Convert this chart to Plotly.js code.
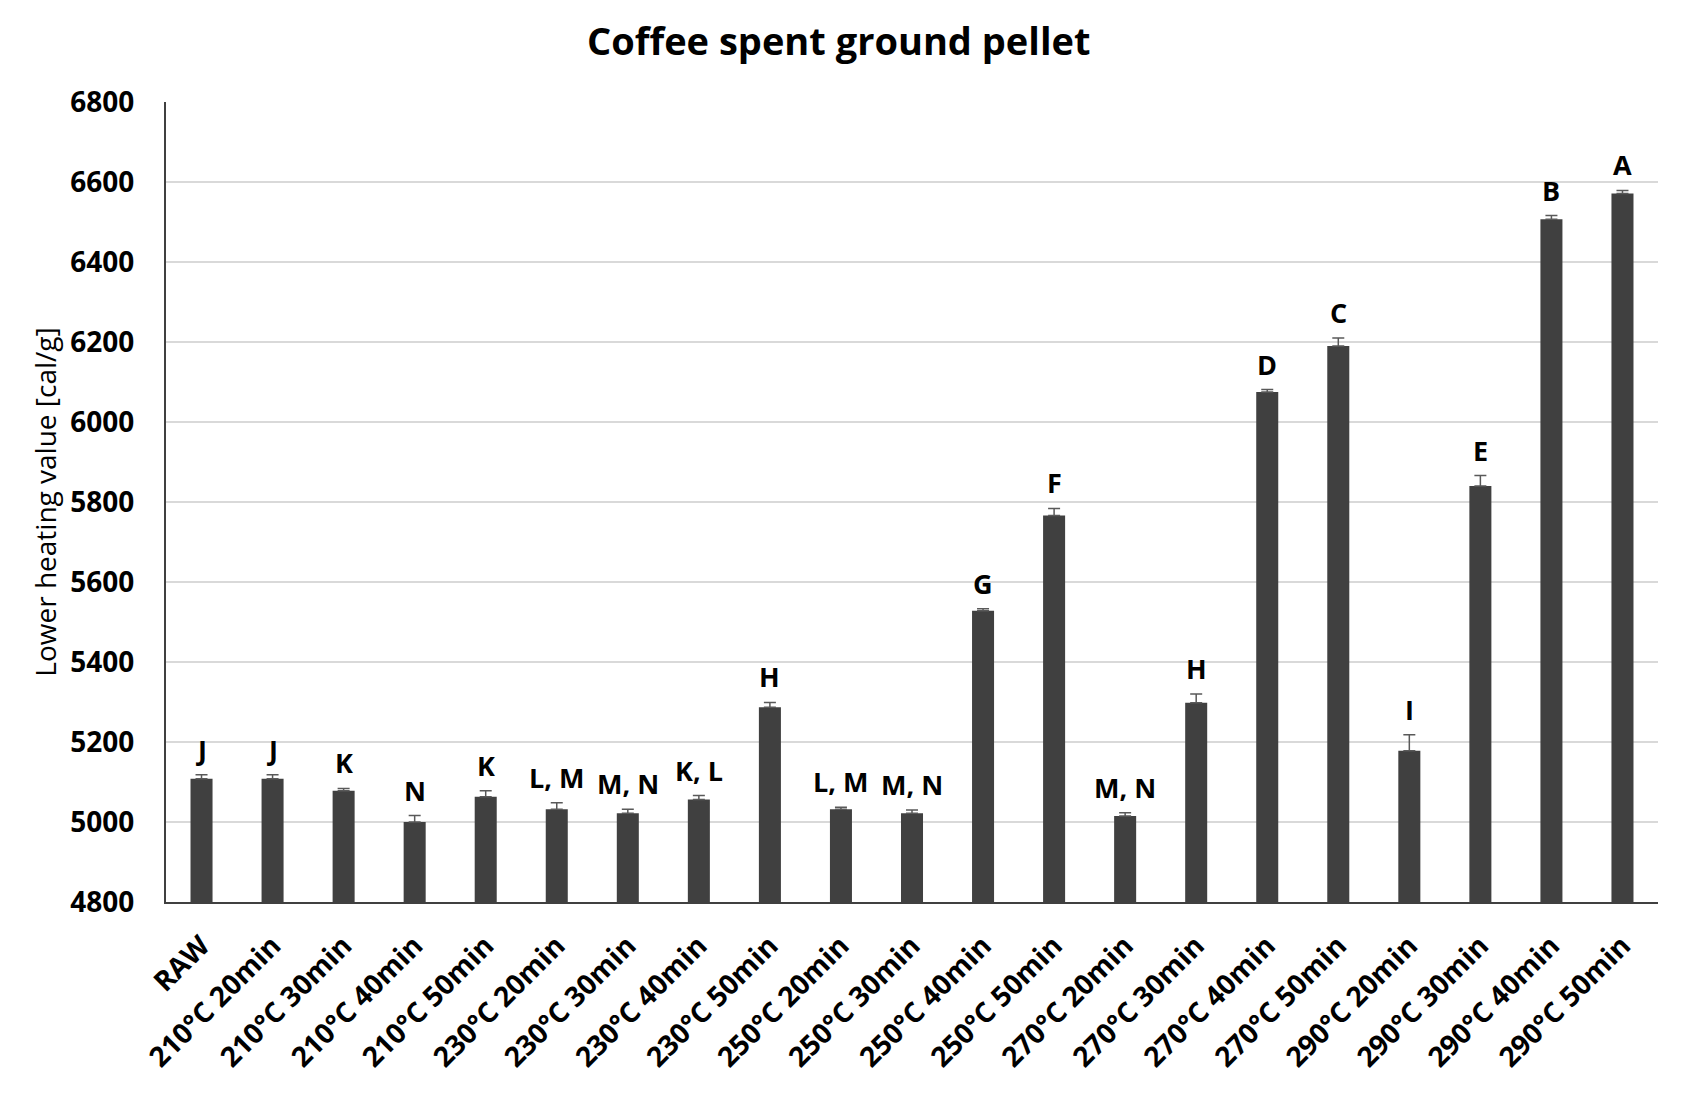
<!DOCTYPE html>
<html>
<head>
<meta charset="utf-8">
<script src="https://cdn.plot.ly/plotly-3.0.1.min.js"></script>
<style>
  html, body { margin: 0; padding: 0; background: #fff; }
  #myDiv { width: 1691px; height: 1094px; }
</style>
</head>
<body>
<div id="myDiv"></div>
<script>
var categories = [
  "RAW", "210°C 20min", "210°C 30min", "210°C 40min", "210°C 50min",
  "230°C 20min", "230°C 30min", "230°C 40min", "230°C 50min",
  "250°C 20min", "250°C 30min", "250°C 40min", "250°C 50min",
  "270°C 20min", "270°C 30min", "270°C 40min", "270°C 50min",
  "290°C 20min", "290°C 30min", "290°C 40min", "290°C 50min"
];
var lhv = [
  5108, 5108, 5078, 5000, 5063,
  5032, 5022, 5056, 5287,
  5032, 5022, 5528, 5766,
  5015, 5298, 6075, 6190,
  5178, 5840, 6507, 6571
];
var lhvErr = [
  10, 10, 6, 16, 15,
  16, 10, 10, 12,
  5, 8, 5, 18,
  8, 22, 6, 20,
  40, 26, 9, 8
];
var groups = [
  "J", "J", "K", "N", "K",
  "L, M", "M, N", "K, L", "H",
  "L, M", "M, N", "G", "F",
  "M, N", "H", "D", "C",
  "I", "E", "B", "A"
];

var fontFamily = "'Open Sans', 'Noto Sans', sans-serif";

var data = [
  {
    type: "bar",
    x: categories,
    y: lhv,
    marker: { color: "#404040" },
    error_y: {
      type: "data",
      symmetric: false,
      array: lhvErr,
      arrayminus: lhvErr.map(function () { return 0; }),
      color: "#595959",
      thickness: 1.5,
      width: 6
    },
    hoverinfo: "x+y"
  }
];

// letter labels above each error bar
var annotations = categories.map(function (c, i) {
  return {
    x: c,
    y: lhv[i] + lhvErr[i],
    text: groups[i],
    showarrow: false,
    xanchor: "center",
    yanchor: "bottom",
    yshift: 5,
    font: { family: fontFamily, size: 27, color: "#000", weight: 700 }
  };
});

var layout = {
  width: 1691, height: 1094,
  margin: { t: 102, r: 33, l: 166, b: 192 },
  paper_bgcolor: "#fff",
  plot_bgcolor: "#fff",
  title: {
    text: "Coffee spent ground pellet",
    font: { family: fontFamily, size: 38, color: "#000", weight: 700 },
    x: 0.496, xanchor: "center",
    y: 0.962, yanchor: "middle"
  },
  bargap: 0.69,
  showlegend: false,
  xaxis: {
    type: "category",
    automargin: false,
    tickangle: -45,
    tickfont: { family: fontFamily, size: 28, color: "#000", weight: 700 },
    ticklabelstandoff: 14,
    showline: true,
    linecolor: "#404040",
    linewidth: 2,
    ticks: "",
    showgrid: false
  },
  yaxis: {
    automargin: false,
    range: [4800, 6800],
    dtick: 200,
    tickfont: { family: fontFamily, size: 28, color: "#000", weight: 700 },
    ticklabelstandoff: 24,
    title: {
      text: "Lower heating value [cal/g]",
      font: { family: fontFamily, size: 28, color: "#000" },
      standoff: 6
    },
    showline: true,
    linecolor: "#404040",
    linewidth: 2,
    gridcolor: "#d9d9d9",
    gridwidth: 1.5,
    zeroline: false,
    ticks: "",
    ticklen: 0
  },
  annotations: annotations
};

Plotly.newPlot("myDiv", data, layout, { displayModeBar: false });
</script>
</body>
</html>
